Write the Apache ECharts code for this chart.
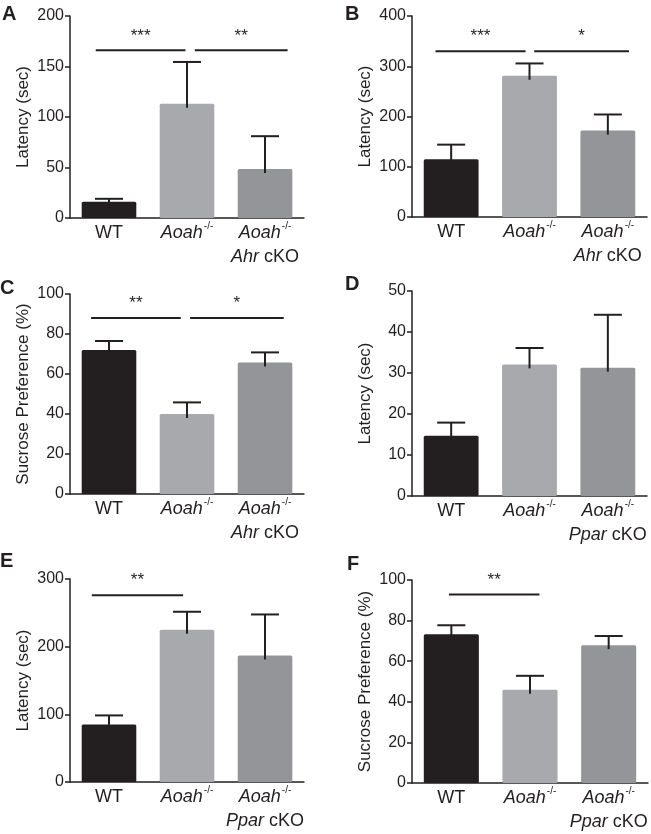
<!DOCTYPE html>
<html><head><meta charset="utf-8">
<script src="https://cdn.jsdelivr.net/npm/echarts@6/dist/echarts.min.js"></script>
<style>html,body{margin:0;padding:0;background:#fff}#c{width:651px;height:834px}</style>
</head><body><div id="c"></div>
<script>
// ---------- data ----------
const groupsAhr = ['WT', 'Aoah-/-', 'Aoah-/-\nAhr cKO'];
const groupsPpar = ['WT', 'Aoah-/-', 'Aoah-/-\nPpar cKO'];
const panelLetters = ['A', 'B', 'C', 'D', 'E', 'F'];
const yNames = ['Latency (sec)', 'Latency (sec)', 'Sucrose Preference (%)', 'Latency (sec)', 'Latency (sec)', 'Sucrose Preference (%)'];
const yMax = [200, 400, 100, 50, 300, 100];
const yStep = [50, 100, 20, 10, 100, 20];

const meanA = [16, 113, 48.5];   const semA = [3, 41.5, 32.5];
const meanB = [115, 281, 172];   const semB = [29, 24.6, 32];
const meanC = [72, 40, 65.8];    const semC = [4.5, 5.8, 5];
const meanD = [14.7, 32.1, 31.3]; const semD = [3.2, 4, 12.9];
const meanE = [85, 225, 187];    const semE = [13.4, 26.6, 60.6];
const meanF = [73.3, 45.9, 67.9]; const semF = [4.4, 6.9, 4.5];

// significance brackets: [from (category position), to (category position), y value]
const sigA = [[-0.17, 0.98, 166], [1.10, 2.29, 166]]; const sigLabA = ['***', '**'];
const sigB = [[-0.2, 0.95, 330], [1.06, 2.27, 330]];  const sigLabB = ['***', '*'];
const sigC = [[-0.23, 0.92, 88], [1.04, 2.24, 88]];    const sigLabC = ['**', '*'];
const sigD = [];                                        const sigLabD = [];
const sigE = [[-0.22, 0.95, 276]];                      const sigLabE = ['**'];
const sigF = [[-0.03, 1.12, 92.8]];                     const sigLabF = ['**'];

// ---------- styles / layout ----------
const INK = '#231f20';
const barColors = ['#231f20', '#a7a9ac', '#939598'];
const FONT = '"Liberation Sans", Arial, Helvetica, sans-serif';
const grids = [
  {left: 70, top: 16, width: 234, height: 202},
  {left: 412, top: 16, width: 235, height: 201},
  {left: 70, top: 294, width: 234, height: 200},
  {left: 412, top: 291, width: 235, height: 205},
  {left: 70, top: 579, width: 234, height: 203},
  {left: 412, top: 580, width: 236, height: 203}
];
const letterPos = [[2, 4], [345, 4], [0, 278], [345, 274], [0, 551], [347, 554]];

const panels = [
  {cats: groupsAhr, mean: meanA, sem: semA, sig: sigA, lab: sigLabA},
  {cats: groupsAhr, mean: meanB, sem: semB, sig: sigB, lab: sigLabB},
  {cats: groupsAhr, mean: meanC, sem: semC, sig: sigC, lab: sigLabC},
  {cats: groupsPpar, mean: meanD, sem: semD, sig: sigD, lab: sigLabD},
  {cats: groupsPpar, mean: meanE, sem: semE, sig: sigE, lab: sigLabE},
  {cats: groupsPpar, mean: meanF, sem: semF, sig: sigF, lab: sigLabF}
];

const italicWords = ['Aoah', 'Ahr', 'Ppar'];
function fmtLabel(v) {
  return v.split('\n').map(line => line.split(' ').map(tok => {
    const m = tok.match(/^([A-Za-z]+)(-\/-)?$/);
    if (!m) return '{n|' + tok + '}';
    let s = italicWords.indexOf(m[1]) >= 0 ? '{i|' + m[1] + '}' : '{n|' + m[1] + '}';
    if (m[2]) s += '{s|' + m[2] + '}';
    return s;
  }).join('{n| }')).join('\n');
}

const option = {
  backgroundColor: '#fff',
  animation: false,
  textStyle: {fontFamily: FONT},
  title: panelLetters.map((t, i) => ({
    text: t, left: letterPos[i][0], top: letterPos[i][1], padding: 0,
    textStyle: {fontFamily: FONT, fontSize: 20, fontWeight: 'bold', color: INK}
  })),
  grid: grids,
  xAxis: panels.map((p, i) => ({
    type: 'category', gridIndex: i, data: p.cats,
    axisLine: {lineStyle: {color: INK, width: 1.5}},
    axisTick: {show: false},
    axisLabel: {
      margin: 3, interval: 0, formatter: fmtLabel, color: INK,
      rich: {
        n: {fontFamily: FONT, fontSize: 18, lineHeight: 24, color: INK, align: 'center'},
        i: {fontFamily: FONT, fontSize: 18, lineHeight: 24, fontStyle: 'italic', color: INK, align: 'center'},
        s: {fontFamily: FONT, fontSize: 10, lineHeight: 14, verticalAlign: 'top', color: INK, padding: [0, 0, 0, 1], align: 'center'}
      }
    }
  })),
  yAxis: panels.map((p, i) => ({
    type: 'value', gridIndex: i, min: 0, max: yMax[i], interval: yStep[i],
    name: yNames[i], nameLocation: 'middle', nameGap: 38,
    nameTextStyle: {fontFamily: FONT, fontSize: 17, color: INK},
    axisLine: {show: true, lineStyle: {color: INK, width: 1.5}},
    axisTick: {show: true, length: 5, lineStyle: {color: INK, width: 1.5}},
    axisLabel: {fontFamily: FONT, fontSize: 16, color: INK, margin: 6},
    splitLine: {show: false}
  })),
  series: []
};

panels.forEach((p, i) => {
  option.series.push({
    type: 'bar', xAxisIndex: i, yAxisIndex: i, barWidth: '70%',
    data: p.mean.map((v, k) => ({value: v, itemStyle: {color: barColors[k], borderRadius: 1.5}}))
  });
  option.series.push({
    type: 'custom', xAxisIndex: i, yAxisIndex: i, z: 3,
    data: p.mean.map((v, k) => [k, v, p.sem[k]]),
    renderItem: function (params, api) {
      const x = api.value(0), m = api.value(1), e = api.value(2);
      const p0 = api.coord([x, m]); const p1 = api.coord([x, m + e]);
      const hw = 14;
      return {type: 'group', children: [
        {type: 'line', shape: {x1: p0[0], y1: p0[1] + 4, x2: p1[0], y2: p1[1]}, style: {stroke: INK, lineWidth: 2}},
        {type: 'line', shape: {x1: p1[0] - hw, y1: p1[1], x2: p1[0] + hw, y2: p1[1]}, style: {stroke: INK, lineWidth: 2}}
      ]};
    }
  });
  if (p.sig.length) {
    option.series.push({
      type: 'custom', xAxisIndex: i, yAxisIndex: i, z: 4,
      data: p.sig,
      renderItem: function (params, api) {
        const f = api.value(0), t = api.value(1), y = api.value(2);
        const w = api.size([1, 0])[0];
        const c = api.coord([0, y]);
        const x1 = c[0] + f * w, x2 = c[0] + t * w;
        return {type: 'group', children: [
          {type: 'line', shape: {x1: x1, y1: c[1], x2: x2, y2: c[1]}, style: {stroke: INK, lineWidth: 2}},
          {type: 'text', style: {text: p.lab[params.dataIndex], x: (x1 + x2) / 2, y: c[1] - 6,
            textAlign: 'center', textVerticalAlign: 'bottom', fontSize: 17, fontFamily: FONT, fill: INK}}
        ]};
      }
    });
  }
});

const chart = echarts.init(document.getElementById('c'), null, {renderer: 'canvas'});
chart.setOption(option);
</script></body></html>
